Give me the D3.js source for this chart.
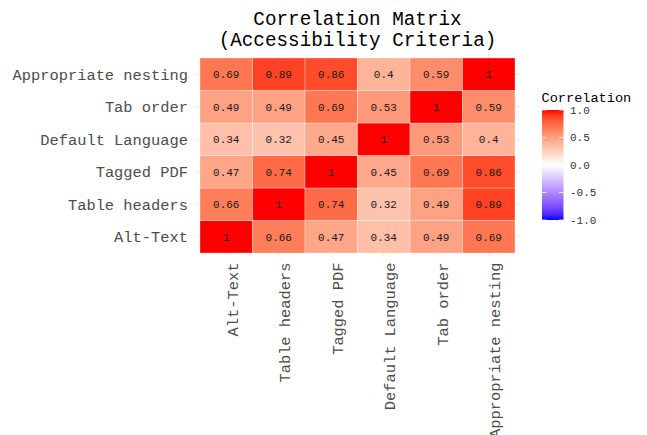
<!DOCTYPE html>
<html>
<head>
<meta charset="utf-8">
<script src="https://cdn.jsdelivr.net/npm/d3@7"></script>
<style>
  body { margin: 0; background: #fff; }
  text { font-family: "Liberation Mono", "DejaVu Sans Mono", monospace; }
</style>
</head>
<body>
<svg width="647" height="435"></svg>
<script>
// criteria, in axis order (x left->right, y bottom->top)
const criteria = ["Alt-Text", "Table headers", "Tagged PDF", "Default Language", "Tab order", "Appropriate nesting"];

// one row of correlations per criterion (same order as criteria)
const altText      = [1, 0.66, 0.47, 0.34, 0.49, 0.69];
const tableHeaders = [0.66, 1, 0.74, 0.32, 0.49, 0.89];
const taggedPdf    = [0.47, 0.74, 1, 0.45, 0.69, 0.86];
const defaultLang  = [0.34, 0.32, 0.45, 1, 0.53, 0.4];
const tabOrder     = [0.49, 0.49, 0.69, 0.53, 1, 0.59];
const nesting      = [0.69, 0.89, 0.86, 0.4, 0.59, 1];

const legendBreaks = [1, 0.5, 0, -0.5, -1];
const legendLabels = ["1.0", "0.5", "0.0", "-0.5", "-1.0"];

const rows = [altText, tableHeaders, taggedPdf, defaultLang, tabOrder, nesting];
const cells = [];
rows.forEach((r, i) => r.forEach((v, j) => cells.push({x: criteria[j], y: criteria[i], value: v})));

const svg = d3.select("svg");

const x = d3.scaleBand().domain(criteria).range([200, 515]);
const y = d3.scaleBand().domain(criteria).range([253, 58]);
const pad = {x: x.bandwidth() * 0.1, y: y.bandwidth() * 0.1};

const color = d3.scaleLinear()
  .domain([-1, 0, 1])
  .range(["blue", "white", "red"])
  .interpolate(d3.interpolateLab);

// grid lines (only visible in the panel expansion)
const grid = svg.append("g").attr("stroke", "#ebebeb").attr("stroke-width", 1);
criteria.forEach(c => {
  const cx = x(c) + x.bandwidth() / 2;
  grid.append("line").attr("x1", cx).attr("x2", cx)
    .attr("y1", 58 - pad.y).attr("y2", 253 + pad.y);
  const cy = y(c) + y.bandwidth() / 2;
  grid.append("line").attr("y1", cy).attr("y2", cy)
    .attr("x1", 200 - pad.x).attr("x2", 515 + pad.x);
});

// tiles
svg.append("g").selectAll("rect")
  .data(cells)
  .join("rect")
  .attr("x", d => x(d.x))
  .attr("y", d => y(d.y))
  .attr("width", x.bandwidth())
  .attr("height", y.bandwidth())
  .attr("fill", d => color(d.value))
  .attr("stroke", "#fff")
  .attr("stroke-opacity", 0.5)
  .attr("stroke-width", 0.6);

svg.append("g").selectAll("text")
  .data(cells)
  .join("text")
  .attr("x", d => x(d.x) + x.bandwidth() / 2)
  .attr("y", d => y(d.y) + y.bandwidth() / 2)
  .attr("dy", "0.35em")
  .attr("text-anchor", "middle")
  .attr("font-size", 11)
  .attr("fill", "#1a1a1a")
  .text(d => String(d.value));

// y axis labels
svg.append("g").selectAll("text")
  .data(criteria)
  .join("text")
  .attr("x", 188)
  .attr("y", d => y(d) + y.bandwidth() / 2)
  .attr("dy", "0.35em")
  .attr("text-anchor", "end")
  .attr("font-size", 15.4)
  .attr("fill", "#4d4d4d")
  .text(d => d);

// x axis labels, rotated
svg.append("g").selectAll("text")
  .data(criteria)
  .join("text")
  .attr("transform", d => `translate(${x(d) + x.bandwidth() / 2},262.5) rotate(-90)`)
  .attr("dy", "0.74em")
  .attr("text-anchor", "end")
  .attr("font-size", 15.4)
  .attr("fill", "#4d4d4d")
  .text(d => d);

// title
const title = svg.append("text")
  .attr("x", 357.5)
  .attr("text-anchor", "middle")
  .attr("font-size", 19.3)
  .attr("fill", "#000");
title.append("tspan").attr("x", 357.5).attr("y", 24.5).text("Correlation Matrix");
title.append("tspan").attr("x", 357.5).attr("y", 45.5).text("(Accessibility Criteria)");

// legend
const ly = d3.scaleLinear().domain([-1, 1]).range([220, 110]);
const barX = 542, barW = 21.5;

const grad = svg.append("defs").append("linearGradient")
  .attr("id", "corrGrad")
  .attr("x1", 0).attr("y1", 1).attr("x2", 0).attr("y2", 0);
d3.range(-1, 1.0001, 0.1).forEach(v => {
  grad.append("stop")
    .attr("offset", (v + 1) / 2)
    .attr("stop-color", color(v));
});

svg.append("rect")
  .attr("x", barX)
  .attr("y", ly(1))
  .attr("width", barW)
  .attr("height", ly(-1) - ly(1))
  .attr("fill", "url(#corrGrad)");

const ticks = svg.append("g").attr("stroke", "#fff").attr("stroke-width", 0.8);
legendBreaks.forEach(b => {
  ticks.append("line").attr("x1", barX).attr("x2", barX + barW / 5)
    .attr("y1", ly(b)).attr("y2", ly(b));
  ticks.append("line").attr("x1", barX + barW - barW / 5).attr("x2", barX + barW)
    .attr("y1", ly(b)).attr("y2", ly(b));
});

svg.append("g").selectAll("text")
  .data(legendBreaks)
  .join("text")
  .attr("x", 570)
  .attr("y", d => ly(d))
  .attr("dy", "0.35em")
  .attr("font-size", 11)
  .attr("fill", "#333")
  .text((d, i) => legendLabels[i]);

svg.append("text")
  .attr("x", 541.5)
  .attr("y", 101.5)
  .attr("font-size", 13.6)
  .attr("fill", "#000")
  .text("Correlation");
</script>
</body>
</html>
